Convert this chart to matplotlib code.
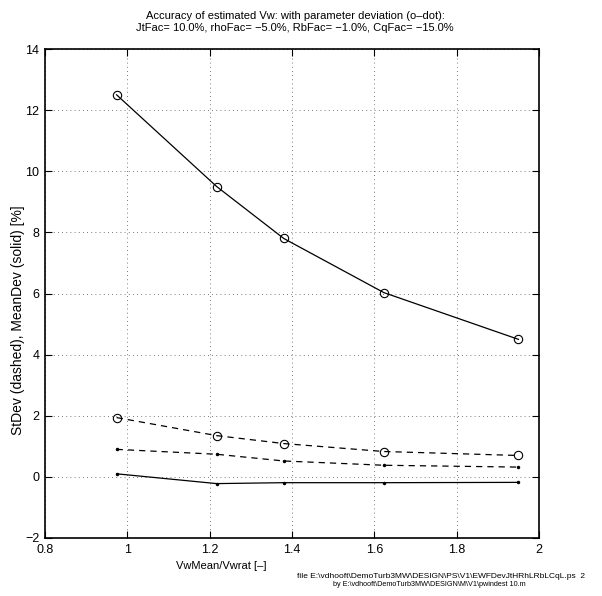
import matplotlib
matplotlib.use('Agg')
import matplotlib.pyplot as plt

plt.rcParams['font.family'] = ['Liberation Sans', 'DejaVu Sans']

# VwMean/Vwrat at which the estimator was evaluated
vw_ratio = [0.974, 1.217, 1.38, 1.623, 1.95]
# mean deviation (solid) and standard deviation (dashed) [%]
mean_dev_par = [12.5, 9.5, 7.8, 6.03, 4.5]     # with parameter deviation (o)
std_dev_par = [1.94, 1.35, 1.09, 0.83, 0.70]
mean_dev_nom = [0.10, -0.22, -0.19, -0.19, -0.18]   # nominal (dot)
std_dev_nom = [0.90, 0.74, 0.52, 0.38, 0.32]

title_lines = ['Accuracy of estimated Vw: with parameter deviation (o\u2013dot):',
               'JtFac= 10.0%, rhoFac= \u22125.0%, RbFac= \u22121.0%, CqFac= \u221215.0%']
xticks = [0.8, 1, 1.2, 1.4, 1.6, 1.8, 2]
yticks = [-2, 0, 2, 4, 6, 8, 10, 12, 14]

fig = plt.figure(figsize=(6.02, 5.96), dpi=100)
ax = fig.add_axes([45/602, 1-538/596, 494/602, 489/596])

ax.plot(vw_ratio, mean_dev_par, '-', color='k', lw=0.9, marker='o', ms=6, mfc='none', mew=0.8)
ax.plot(vw_ratio, std_dev_par, '--', color='k', lw=0.9, marker='o', ms=6, mfc='none', mew=0.8,
        dashes=(5, 4))
ax.plot(vw_ratio, mean_dev_nom, '-', color='k', lw=0.9, marker='.', ms=3)
ax.plot(vw_ratio, std_dev_nom, '--', color='k', lw=0.9, marker='.', ms=3, dashes=(5, 4))

ax.set_xlim(0.8, 2)
ax.set_ylim(-2, 14)
ax.set_xticks(xticks)
ax.set_xticklabels(['0.8', '1', '1.2', '1.4', '1.6', '1.8', '2'])
ax.set_yticks(yticks)
ax.set_yticklabels([str(t) if t >= 0 else '\u2212' + str(-t) for t in yticks])
ax.tick_params(direction='in', top=True, right=True, labelsize=9, length=5, width=0.8, pad=4)
ax.grid(True, linestyle=(0, (1, 4)), color='k', lw=0.6, alpha=0.7)
for s in ax.spines.values():
    s.set_linewidth(1.2)

fig.text(295/602, 1-16/596, title_lines[0], ha='center', va='center', fontsize=8)
fig.text(295/602, 1-28/596, title_lines[1], ha='center', va='center', fontsize=8)
fig.text(221/602, 1-566/596, 'VwMean/Vwrat [\u2013]', ha='center', va='center', fontsize=8)
fig.text(18/602, 1-320/596, 'StDev (dashed), MeanDev (solid) [%]', ha='center', va='center',
         rotation=90, fontsize=10)

# footer (the date is cut off at the page edge in the original)
fig.text(297/602, 1-576/596, 'file E:\\vdhooft\\DemoTurb3MW\\DESIGN\\PS\\V1\\EWFDevJtHRhLRbLCqL.ps  2',
         ha='left', va='center', fontsize=6)
fig.text(333/602, 1-585/596, 'by E:\\vdhooft\\DemoTurb3MW\\DESIGN\\M\\V1\\pwindest 10.m',
         ha='left', va='center', fontsize=5.2)

fig.savefig('out.png', dpi=100)
